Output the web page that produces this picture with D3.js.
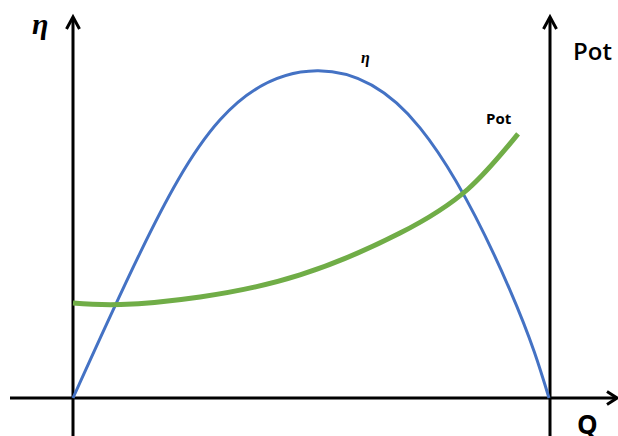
<!DOCTYPE html>
<html>
<head>
<meta charset="utf-8">
<script src="https://cdn.jsdelivr.net/npm/d3@7"></script>
<style>
  body { margin: 0; background: #fff; }
  svg { display: block; }
</style>
</head>
<body>
<div id="chart"></div>
<script>
// flow rate Q (0..10) and efficiency eta (0..100)
const etaQ = [0, 1.41, 3.09, 5.13, 7.29, 9.18, 10];
const etaValues = [0, 38.2, 73.2, 86.1, 71.1, 28.4, 0];

// power curve, same scales
const potQ = [0, 1.0, 2.67, 4.77, 6.87, 8.30, 9.35];
const potValues = [25.0, 24.6, 26.6, 32.4, 43.4, 55.0, 69.5];

const width = 618, height = 436;

const svg = d3.select("#chart")
  .append("svg")
  .attr("width", width)
  .attr("height", height);

const x = d3.scaleLinear().domain([0, 10]).range([73, 549]);
const y = d3.scaleLinear().domain([0, 100]).range([398, 18]);

// axes: plain lines with open arrow heads
const axisColor = "#000";
function arrowHead(tx, ty, dir) {
  // dir: "up" or "right"
  const pts = dir === "up"
    ? [[tx - 6.5, ty + 12], [tx, ty], [tx + 6.5, ty + 12]]
    : [[tx - 10, ty - 6.5], [tx, ty], [tx - 10, ty + 6.5]];
  svg.append("path")
    .attr("d", d3.line()(pts))
    .attr("fill", "none")
    .attr("stroke", axisColor)
    .attr("stroke-width", 3)
    .attr("stroke-linejoin", "miter");
}

svg.append("line")
  .attr("x1", 10).attr("x2", 616)
  .attr("y1", y(0)).attr("y2", y(0))
  .attr("stroke", axisColor).attr("stroke-width", 3);
arrowHead(617, y(0), "right");

[0, 10].forEach(q => {
  const px = x(q) + (q === 0 ? 0 : 1);
  svg.append("line")
    .attr("x1", px).attr("x2", px)
    .attr("y1", 18).attr("y2", height)
    .attr("stroke", axisColor).attr("stroke-width", 3);
  arrowHead(px, 17, "up");
});

const line = d3.line()
  .x(d => x(d[0]))
  .y(d => y(d[1]))
  .curve(d3.curveNatural);

svg.append("path")
  .datum(d3.zip(etaQ, etaValues))
  .attr("d", line)
  .attr("fill", "none")
  .attr("stroke", "#4472C4")
  .attr("stroke-width", 3);

svg.append("path")
  .datum(d3.zip(potQ, potValues))
  .attr("d", line)
  .attr("fill", "none")
  .attr("stroke", "#70AD47")
  .attr("stroke-width", 5);

// labels
svg.append("text")
  .attr("x", 32).attr("y", 34)
  .text("η")
  .attr("font-family", "'Liberation Serif', serif")
  .attr("font-style", "italic")
  .attr("font-weight", "bold")
  .attr("font-size", "30px");

svg.append("text")
  .attr("x", 361).attr("y", 63)
  .text("η")
  .attr("font-family", "'Liberation Serif', serif")
  .attr("font-style", "italic")
  .attr("font-weight", "bold")
  .attr("font-size", "16px");

svg.append("text")
  .attr("x", 573).attr("y", 60)
  .text("Pot")
  .attr("font-family", "'Open Sans', sans-serif")
  .attr("font-weight", 600)
  .attr("font-size", "24px");

svg.append("text")
  .attr("x", 486).attr("y", 124)
  .text("Pot")
  .attr("font-family", "'Open Sans', sans-serif")
  .attr("font-weight", "bold")
  .attr("font-size", "15px");

svg.append("text")
  .attr("x", 577).attr("y", 434)
  .text("Q")
  .attr("font-family", "'Open Sans', sans-serif")
  .attr("font-weight", "bold")
  .attr("font-size", "26px");
</script>
</body>
</html>
